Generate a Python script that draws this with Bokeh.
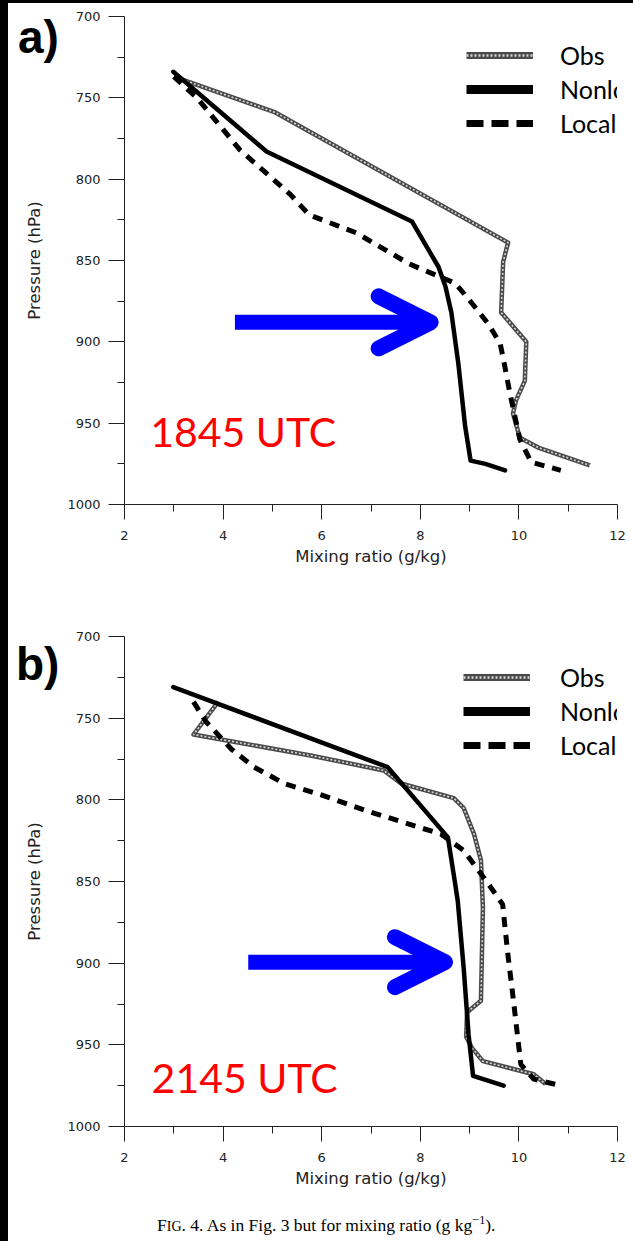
from bokeh.plotting import figure
from bokeh.models import (Range1d, FixedTicker, Label, Arrow, OpenHead, Legend,
                          LegendItem, Div)
from bokeh.layouts import column
from bokeh.embed import file_html
from bokeh.resources import INLINE

# ---------------- data (mixing ratio g/kg, pressure hPa) ----------------
# Panel a) 1845 UTC
obs_a_q = [3.10, 5.06, 9.78, 9.68, 9.64, 10.15, 10.12, 9.94, 9.88, 10.02, 10.39, 11.44]
obs_a_p = [738, 759, 839, 851, 882, 900, 924, 936, 944, 959, 965, 976]
nl_a_q = [2.99, 4.88, 7.83, 8.37, 8.51, 8.63, 8.77, 8.91, 9.02, 9.32, 9.72]
nl_a_p = [734, 783, 826, 854, 866, 882, 913, 952, 973, 975, 979]
lc_a_q = [3.00, 3.47, 4.34, 5.35, 5.75, 6.70, 7.77, 8.71, 9.04, 9.38, 9.62, 9.72,
          9.82, 9.92, 10.02, 10.25, 10.85]
lc_a_p = [737, 750, 782, 809, 822, 833, 852, 864, 876, 889, 901, 916,
          932, 946, 960, 974, 979]

# Panel b) 2145 UTC
obs_b_q = [3.90, 3.40, 5.80, 7.26, 7.61, 8.68, 8.88, 9.09, 9.23, 9.27, 9.23, 8.95,
           8.93, 9.05, 9.27, 10.30, 10.54]
obs_b_p = [740, 760, 773, 782, 790, 799, 805, 821, 837, 866, 923, 930,
           945, 952, 960, 968, 974]
nl_b_q = [2.99, 7.34, 8.56, 8.70, 8.76, 8.88, 8.98, 9.07, 9.69]
nl_b_p = [731, 780, 823, 850, 862, 903, 944, 969, 975]
lc_b_q = [3.40, 3.65, 4.17, 4.63, 5.24, 5.99, 6.94, 8.42, 8.88, 9.37, 9.67, 9.77,
          9.89, 9.97, 10.04, 10.30, 10.85]
lc_b_p = [740, 752, 769, 780, 790, 797, 807, 821, 831, 851, 864, 893,
          923, 944, 962, 971, 975]

x_ticks = [2, 4, 6, 8, 10, 12]
x_minor = [3, 5, 7, 9, 11]
p_ticks = [700, 750, 800, 850, 900, 950, 1000]
p_minor = [725, 775, 825, 875, 925, 975]
series_names = ["Obs", "Nonlocal", "Local"]
caption = ("F<span style='font-size:80%'>IG</span>. 4. As in Fig. 3 but for mixing "
           "ratio (g kg<sup style='font-size:70%'>\u22121</sup>).")

BLUE = "#0000FF"
RED = "#FF0000"
NAN = float("nan")


def panel(h, bl, br, bt, bb, utc, utc_pos, arrow_pos, head_size, legend_pos,
          legend_standoff, obs_q, obs_p, nl_q, nl_p, lc_q, lc_p):
    p = figure(width=625, height=h, x_range=Range1d(2, 12), y_range=Range1d(1000, 700),
               output_backend="svg", toolbar_location=None,
               min_border_left=bl, min_border_right=br, min_border_top=bt,
               min_border_bottom=bb, x_axis_label="Mixing ratio (g/kg)",
               y_axis_label="Pressure (hPa)")
    p.grid.visible = False
    p.outline_line_color = None
    p.background_fill_color = "white"
    p.border_fill_color = "white"

    p.xaxis.ticker = FixedTicker(ticks=x_ticks, minor_ticks=x_minor)
    p.yaxis.ticker = FixedTicker(ticks=p_ticks, minor_ticks=p_minor)
    for ax in (p.xaxis[0], p.yaxis[0]):
        ax.axis_line_color = "#222222"
        ax.major_tick_line_color = "#222222"
        ax.minor_tick_line_color = "#222222"
        ax.major_tick_in = 0
        ax.minor_tick_in = 0
        ax.minor_tick_out = 7
        ax.major_label_text_font = "DejaVu Sans"
        ax.major_label_text_font_size = "13px"
        ax.major_label_text_color = "#222222"
        ax.axis_label_text_font = "DejaVu Sans"
        ax.axis_label_text_font_size = "16.5px"
        ax.axis_label_text_font_style = "normal"
        ax.axis_label_text_color = "#222222"
    p.xaxis.major_tick_out = 15
    p.yaxis.major_tick_out = 16
    p.xaxis.major_label_standoff = 11
    p.yaxis.major_label_standoff = 8
    p.xaxis.axis_label_standoff = 4
    p.yaxis.axis_label_standoff = 20

    # Obs: gray textured line
    p.line(obs_q, obs_p, line_color="#4a4a4a", line_width=4.5, line_join="round")
    p.line(obs_q, obs_p, line_color="#d8d8d8", line_width=1.6, line_dash="2 2")
    p.line(nl_q, nl_p, line_color="black", line_width=4.5, line_join="round",
           line_cap="round")
    p.line(lc_q, lc_p, line_color="black", line_width=5, line_dash="10 8")

    # legend proxies (thicker samples, as in the reference legend)
    lo1 = p.line([NAN], [NAN], line_color="#4a4a4a", line_width=7)
    lo2 = p.line([NAN], [NAN], line_color="#d8d8d8", line_width=2.5, line_dash="2 2")
    ln1 = p.line([NAN], [NAN], line_color="black", line_width=9)
    ll1 = p.line([NAN], [NAN], line_color="black", line_width=7, line_dash="17 8")
    legend = Legend(items=[LegendItem(label=series_names[0], renderers=[lo1, lo2]),
                           LegendItem(label=series_names[1], renderers=[ln1]),
                           LegendItem(label=series_names[2], renderers=[ll1])],
                    location=legend_pos, glyph_width=67, glyph_height=34,
                    label_height=34, label_standoff=legend_standoff, spacing=0,
                    padding=0, margin=0, border_line_color=None,
                    background_fill_color="white", background_fill_alpha=1.0,
                    label_text_font="Lato", label_text_font_size="25px",
                    label_text_color="black")
    p.add_layout(legend)

    # arrow
    xs, xe, yy = arrow_pos
    p.add_layout(Arrow(x_start=xs, y_start=yy, x_end=xe, y_end=yy,
                       line_color=BLUE, line_width=15,
                       end=OpenHead(size=head_size, line_color=BLUE, line_width=16,
                                    line_cap="round", line_join="round")))

    # time label
    p.add_layout(Label(x=utc_pos[0], y=utc_pos[1], text=utc, text_color=RED,
                       text_font="Lato", text_font_size="41px",
                       text_baseline="alphabetic", text_align="left"))
    return p


pa = panel(617, 116, 13, 13, 116, "1845 UTC", (2.52, 955.0),
           (4.24, 8.21, 888), 52, (342, 364), 27,
           obs_a_q, obs_a_p, nl_a_q, nl_a_p, lc_a_q, lc_a_p)
pb = panel(621, 115, 16, 16, 115, "2145 UTC", (2.55, 970.0),
           (4.51, 8.50, 899.4), 50, (339, 364), 30,
           obs_b_q, obs_b_p, nl_b_q, nl_b_p, lc_b_q, lc_b_p)


def overlay(text, left, top, font):
    return Div(text=text, styles={"position": "absolute", "left": f"{left}px",
                                  "top": f"{top}px", "font": font,
                                  "color": "black", "z-index": "10",
                                  "white-space": "nowrap", "margin": "0",
                                  "padding": "0"})


def vline(top, bottom):
    return Div(text="", styles={"position": "absolute", "left": "623px",
                                "top": f"{top}px", "width": "0px",
                                "height": f"{bottom - top}px",
                                "border-left": "1px solid black", "z-index": "10"})


letter_font = "bold 46px/46px 'Liberation Sans'"
div_a = overlay("a)", 10, 11, letter_font)
div_b = overlay("b)", 8, 638, letter_font)
div_c = overlay(caption, 149, 1209, "17.5px/17.5px 'Liberation Serif'")
edges = [vline(-3, 22), vline(149, 644), vline(780, 1182)]

layout = column(pa, pb, div_a, div_b, div_c, *edges, spacing=0,
                styles={"background-color": "white", "border-left": "8px solid black",
                        "border-top": "3px solid black", "position": "relative",
                        "overflow": "hidden"})

open("out.html", "w").write(file_html(layout, INLINE))
